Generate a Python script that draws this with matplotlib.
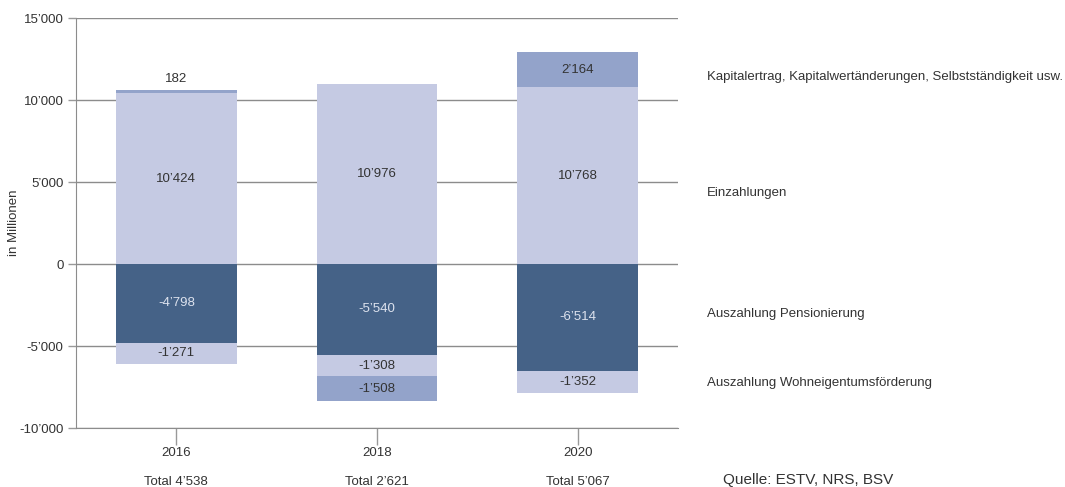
import numpy as np
import matplotlib.pyplot as plt

plt.rcParams['font.family'] = ['Liberation Sans', 'DejaVu Sans']

# data (in Millionen)
years = ['2016', '2018', '2020']
totals = ['Total 4’538', 'Total 2’621', 'Total 5’067']
kapital = [182, -1508, 2164]
einzahlungen = [10424, 10976, 10768]
pension = [-4798, -5540, -6514]
wohneigentum = [-1271, -1308, -1352]

series_names = ['Kapitalertrag, Kapitalwertänderungen, Selbstständigkeit usw.',
                'Einzahlungen', 'Auszahlung Pensionierung',
                'Auszahlung Wohneigentumsförderung']
name_y = [11400, 4330, -3050, -7260]

c_light = '#c5cae3'
c_mid = '#93a3ca'
c_dark = '#456287'
txt = '#333333'

def fmt(v):
    return f'{v:,}'.replace(',', '’')

fig = plt.figure(figsize=(10.65, 4.87), dpi=100)
ax = fig.add_axes([0.0714, 0.1211, 0.5652, 0.8419])

x = np.arange(len(years))
w = 0.6

# positive parts stack up from 0, negative parts down from 0
segments = []
pos_base = np.zeros(len(years))
neg_base = np.zeros(len(years))
for vals, col, tcol in [(einzahlungen, c_light, txt), (kapital, c_mid, txt)]:
    for i, v in enumerate(vals):
        if v >= 0:
            segments.append((i, pos_base[i], v, col, tcol))
            pos_base[i] += v
for vals, col, tcol in [(pension, c_dark, '#dde2ee'), (wohneigentum, c_light, txt),
                        (kapital, c_mid, txt)]:
    for i, v in enumerate(vals):
        if v < 0:
            segments.append((i, neg_base[i], v, col, tcol))
            neg_base[i] += v

for i, b, v, col, tcol in segments:
    ax.bar(x[i], v, bottom=b, width=w, color=col, zorder=2)
    if abs(v) < 800:
        ax.text(x[i], b + v + 700, fmt(v), ha='center', va='center',
                fontsize=9.5, color=txt, zorder=3)
    else:
        ax.text(x[i], b + v / 2, fmt(v), ha='center', va='center',
                fontsize=9.5, color=tcol, zorder=3)

ax.set_xlim(-0.5, 2.5)
ax.set_ylim(-10000, 15000)
yt = np.arange(-10000, 15001, 5000)
ax.set_yticks(yt)
ax.set_yticklabels([fmt(int(v)) for v in yt], fontsize=9.5, color=txt)
ax.set_xticks(x)
ax.set_xticklabels(years, fontsize=9.5, color=txt)
ax.tick_params(axis='y', length=6, width=1, color='#999999', pad=3)
ax.tick_params(axis='x', length=12, width=1, color='#999999', pad=2)
ax.grid(axis='y', color='#8c8c8c', linewidth=1, zorder=0)
ax.set_axisbelow(True)
for s in ['top', 'right']:
    ax.spines[s].set_visible(False)
ax.spines['left'].set_color('#8c8c8c')
ax.spines['bottom'].set_color('#8c8c8c')
ax.set_ylabel('in Millionen', fontsize=9.5, color=txt)
ax.yaxis.set_label_coords(-0.093, 0.5)

for i, t in enumerate(totals):
    ax.annotate(t, xy=(x[i], 0), xycoords=('data', 'axes fraction'),
                xytext=(0, -39), textcoords='offset points',
                ha='center', va='center', fontsize=9.5, color=txt)

for name, yy in zip(series_names, name_y):
    ax.annotate(name, xy=(1.048, yy), xycoords=('axes fraction', 'data'),
                ha='left', va='center', fontsize=9.5, color=txt)

fig.text(0.679, 0.0144, 'Quelle: ESTV, NRS, BSV', fontsize=11, color=txt,
         ha='left', va='center')

fig.savefig('out.png', dpi=100)
